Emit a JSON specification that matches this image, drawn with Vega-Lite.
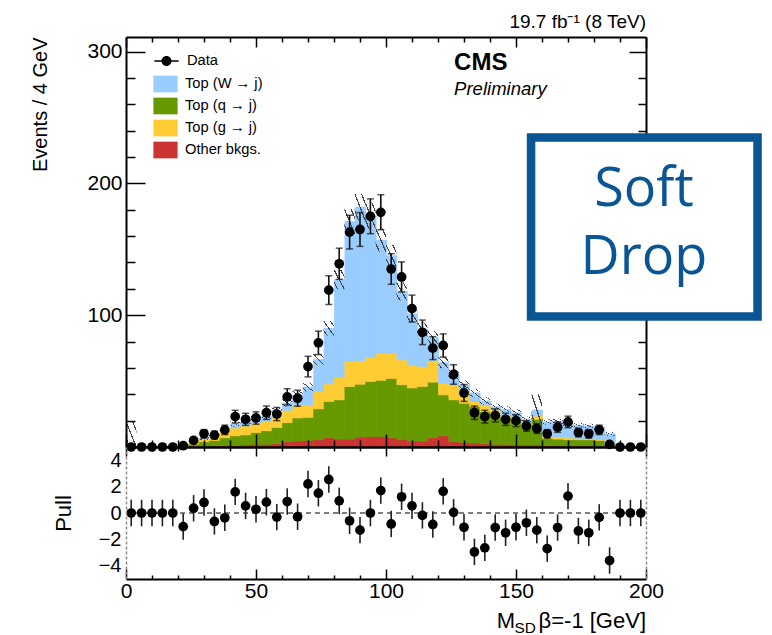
{
  "$schema": "https://vega.github.io/schema/vega-lite/v6.json",
  "background": "white",
  "padding": {"left": 30, "top": 13, "right": 5, "bottom": 0},
  "config": {
    "font": "Liberation Sans",
    "view": {"stroke": null},
    "axis": {"grid": false, "domainColor": "black", "domainWidth": 2, "tickColor": "black", "tickWidth": 1.5, "labelColor": "black", "titleColor": "black", "labelFont": "Liberation Sans", "titleFont": "Liberation Sans", "titleFontWeight": "normal", "labelFontSize": 21, "labelFlush": false, "labelOverlap": false},
    "legend": {"labelFont": "Liberation Sans", "labelColor": "black", "padding": 0},
    "title": {"font": "Liberation Sans", "fontWeight": "normal", "color": "black"}
  },
  "datasets": {
    "bins": [
      {"m": 2, "lo": 0, "hi": 4, "a_other": 0, "b_topq": 0, "c_topg": 0, "d_topw": 0.5, "ulo": 0, "uhi": 19, "n": 0, "err": 0, "pull": 0, "perr": 1},
      {"m": 6, "lo": 4, "hi": 8, "a_other": 0, "b_topq": 0, "c_topg": 0, "d_topw": 0.2, "ulo": 0, "uhi": 1, "n": 0, "err": 0, "pull": 0, "perr": 1},
      {"m": 10, "lo": 8, "hi": 12, "a_other": 0, "b_topq": 0, "c_topg": 0, "d_topw": 0.1, "ulo": 0, "uhi": 0.6, "n": 0, "err": 0, "pull": 0, "perr": 1},
      {"m": 14, "lo": 12, "hi": 16, "a_other": 0, "b_topq": 0, "c_topg": 0, "d_topw": 0.1, "ulo": 0, "uhi": 0.6, "n": 0, "err": 0, "pull": 0, "perr": 1},
      {"m": 18, "lo": 16, "hi": 20, "a_other": 0, "b_topq": 0.2, "c_topg": 0.1, "d_topw": 0.1, "ulo": 0, "uhi": 1, "n": 0, "err": 0, "pull": 0, "perr": 1},
      {"m": 22, "lo": 20, "hi": 24, "a_other": 0.3, "b_topq": 0.7, "c_topg": 0.5, "d_topw": 0.2, "ulo": 0.6, "uhi": 2.8, "n": 1, "err": 1.0, "pull": -1.03, "perr": 1},
      {"m": 26, "lo": 24, "hi": 28, "a_other": 0.5, "b_topq": 1.7, "c_topg": 1.8, "d_topw": 0.3, "ulo": 3.1, "uhi": 5.5, "n": 5, "err": 2.2, "pull": 0.36, "perr": 1},
      {"m": 30, "lo": 28, "hi": 32, "a_other": 0.6, "b_topq": 3.4, "c_topg": 2.0, "d_topw": 0.6, "ulo": 5.3, "uhi": 7.9, "n": 10, "err": 3.2, "pull": 0.8, "perr": 1},
      {"m": 34, "lo": 32, "hi": 36, "a_other": 0.8, "b_topq": 4.2, "c_topg": 3.5, "d_topw": 0.7, "ulo": 7.7, "uhi": 10.7, "n": 9, "err": 3.0, "pull": -0.64, "perr": 1},
      {"m": 38, "lo": 36, "hi": 40, "a_other": 1, "b_topq": 6, "c_topg": 5, "d_topw": 1, "ulo": 11.3, "uhi": 14.7, "n": 13, "err": 3.6, "pull": -0.36, "perr": 1},
      {"m": 42, "lo": 40, "hi": 44, "a_other": 1.2, "b_topq": 7.3, "c_topg": 6.0, "d_topw": 3.0, "ulo": 15.6, "uhi": 19.4, "n": 23, "err": 4.8, "pull": 1.6, "perr": 1},
      {"m": 46, "lo": 44, "hi": 48, "a_other": 1.5, "b_topq": 7.7, "c_topg": 6.8, "d_topw": 3.5, "ulo": 17.5, "uhi": 21.5, "n": 21, "err": 4.6, "pull": 0.54, "perr": 1},
      {"m": 50, "lo": 48, "hi": 52, "a_other": 2, "b_topq": 9, "c_topg": 7, "d_topw": 3.5, "ulo": 19.4, "uhi": 23.6, "n": 22, "err": 4.7, "pull": 0.28, "perr": 1},
      {"m": 54, "lo": 52, "hi": 56, "a_other": 2, "b_topq": 10.3, "c_topg": 7.4, "d_topw": 3.8, "ulo": 21.3, "uhi": 25.7, "n": 26, "err": 5.1, "pull": 0.82, "perr": 1},
      {"m": 58, "lo": 56, "hi": 60, "a_other": 2.5, "b_topq": 12.3, "c_topg": 8.2, "d_topw": 4.5, "ulo": 25.1, "uhi": 29.9, "n": 25, "err": 5.0, "pull": -0.31, "perr": 1},
      {"m": 62, "lo": 60, "hi": 64, "a_other": 4, "b_topq": 14.5, "c_topg": 9.3, "d_topw": 5.7, "ulo": 30.8, "uhi": 36.2, "n": 38, "err": 6.2, "pull": 0.87, "perr": 1},
      {"m": 66, "lo": 64, "hi": 68, "a_other": 4.5, "b_topq": 17.5, "c_topg": 10, "d_topw": 7.5, "ulo": 36.5, "uhi": 42.5, "n": 37, "err": 6.1, "pull": -0.28, "perr": 1},
      {"m": 70, "lo": 68, "hi": 72, "a_other": 5, "b_topq": 17.5, "c_topg": 9.5, "d_topw": 13.5, "ulo": 42.2, "uhi": 48.8, "n": 61, "err": 7.8, "pull": 2.2, "perr": 1},
      {"m": 74, "lo": 72, "hi": 76, "a_other": 5.5, "b_topq": 23.5, "c_topg": 13, "d_topw": 24.5, "ulo": 62.2, "uhi": 70.8, "n": 79, "err": 8.9, "pull": 1.5, "perr": 1},
      {"m": 78, "lo": 76, "hi": 80, "a_other": 7, "b_topq": 27.5, "c_topg": 13.4, "d_topw": 42.1, "ulo": 84.5, "uhi": 95.5, "n": 119, "err": 10.9, "pull": 2.54, "perr": 1},
      {"m": 82, "lo": 80, "hi": 84, "a_other": 6, "b_topq": 29.8, "c_topg": 16.9, "d_topw": 74.3, "ulo": 119.6, "uhi": 134.4, "n": 139, "err": 11.8, "pull": 0.92, "perr": 1},
      {"m": 86, "lo": 84, "hi": 88, "a_other": 6, "b_topq": 39.9, "c_topg": 19, "d_topw": 106.1, "ulo": 161.4, "uhi": 180.6, "n": 163, "err": 12.8, "pull": -0.59, "perr": 1},
      {"m": 90, "lo": 88, "hi": 92, "a_other": 7.5, "b_topq": 40.1, "c_topg": 17.9, "d_topw": 116.5, "ulo": 171.9, "uhi": 192.1, "n": 165, "err": 12.8, "pull": -1.3, "perr": 1},
      {"m": 94, "lo": 92, "hi": 96, "a_other": 8, "b_topq": 41.7, "c_topg": 18.5, "d_topw": 107.3, "ulo": 165.7, "uhi": 185.3, "n": 175, "err": 13.2, "pull": 0, "perr": 1},
      {"m": 98, "lo": 96, "hi": 100, "a_other": 8, "b_topq": 42.6, "c_topg": 20.6, "d_topw": 85.8, "ulo": 148.1, "uhi": 165.9, "n": 178, "err": 13.3, "pull": 1.7, "perr": 1},
      {"m": 102, "lo": 100, "hi": 104, "a_other": 7, "b_topq": 45, "c_topg": 19, "d_topw": 74, "ulo": 136.7, "uhi": 153.3, "n": 135, "err": 11.6, "pull": -0.83, "perr": 1},
      {"m": 106, "lo": 104, "hi": 108, "a_other": 5.5, "b_topq": 41.7, "c_topg": 18.9, "d_topw": 51.9, "ulo": 111.1, "uhi": 124.9, "n": 129, "err": 11.4, "pull": 1.23, "perr": 1},
      {"m": 110, "lo": 108, "hi": 112, "a_other": 4.5, "b_topq": 40.3, "c_topg": 17.5, "d_topw": 38.7, "ulo": 94.9, "uhi": 107.1, "n": 105, "err": 10.2, "pull": 0.54, "perr": 1},
      {"m": 114, "lo": 112, "hi": 116, "a_other": 4.5, "b_topq": 41.4, "c_topg": 15.2, "d_topw": 27.9, "ulo": 83.6, "uhi": 94.4, "n": 87, "err": 9.3, "pull": -0.18, "perr": 1},
      {"m": 118, "lo": 116, "hi": 120, "a_other": 7, "b_topq": 42.2, "c_topg": 16.2, "d_topw": 17.6, "ulo": 78, "uhi": 88, "n": 75, "err": 8.7, "pull": -0.87, "perr": 1},
      {"m": 122, "lo": 120, "hi": 124, "a_other": 8.5, "b_topq": 31.1, "c_topg": 8.8, "d_topw": 15.6, "ulo": 59.8, "uhi": 68.2, "n": 77, "err": 8.8, "pull": 1.64, "perr": 1},
      {"m": 126, "lo": 124, "hi": 128, "a_other": 4, "b_topq": 31.8, "c_topg": 11.4, "d_topw": 7.8, "ulo": 51.2, "uhi": 58.8, "n": 55, "err": 7.4, "pull": 0.05, "perr": 1},
      {"m": 130, "lo": 128, "hi": 132, "a_other": 3.5, "b_topq": 29.7, "c_topg": 8.9, "d_topw": 4.9, "ulo": 43.7, "uhi": 50.3, "n": 41, "err": 6.4, "pull": -1.08, "perr": 1},
      {"m": 134, "lo": 132, "hi": 136, "a_other": 3, "b_topq": 27.7, "c_topg": 3.8, "d_topw": 6.5, "ulo": 38, "uhi": 44, "n": 26, "err": 5.1, "pull": -2.95, "perr": 1},
      {"m": 138, "lo": 136, "hi": 140, "a_other": 2.5, "b_topq": 24.4, "c_topg": 5.1, "d_topw": 3, "ulo": 32.2, "uhi": 37.8, "n": 23, "err": 4.8, "pull": -2.64, "perr": 1},
      {"m": 142, "lo": 140, "hi": 144, "a_other": 2, "b_topq": 22.4, "c_topg": 3.8, "d_topw": 2.3, "ulo": 28, "uhi": 33, "n": 24, "err": 4.9, "pull": -1.1, "perr": 1},
      {"m": 146, "lo": 144, "hi": 148, "a_other": 2, "b_topq": 19.9, "c_topg": 1.6, "d_topw": 5, "ulo": 26, "uhi": 31, "n": 21, "err": 4.6, "pull": -1.5, "perr": 1},
      {"m": 150, "lo": 148, "hi": 152, "a_other": 1.5, "b_topq": 17.8, "c_topg": 1.5, "d_topw": 5.2, "ulo": 23.6, "uhi": 28.4, "n": 20, "err": 4.5, "pull": -1.08, "perr": 1},
      {"m": 154, "lo": 152, "hi": 156, "a_other": 1.5, "b_topq": 15.3, "c_topg": 0.7, "d_topw": 3.5, "ulo": 18.9, "uhi": 23.1, "n": 16, "err": 4.0, "pull": -0.74, "perr": 1},
      {"m": 158, "lo": 156, "hi": 160, "a_other": 1.5, "b_topq": 19.5, "c_topg": 2.5, "d_topw": 4.5, "ulo": 16, "uhi": 40, "n": 14, "err": 3.7, "pull": -1.3, "perr": 1},
      {"m": 162, "lo": 160, "hi": 164, "a_other": 1, "b_topq": 5.5, "c_topg": 1.5, "d_topw": 11, "ulo": 17, "uhi": 21, "n": 10, "err": 3.2, "pull": -2.7, "perr": 1},
      {"m": 166, "lo": 164, "hi": 168, "a_other": 1, "b_topq": 5, "c_topg": 1.5, "d_topw": 12, "ulo": 17.5, "uhi": 21.5, "n": 15, "err": 3.9, "pull": -1.1, "perr": 1},
      {"m": 170, "lo": 168, "hi": 172, "a_other": 0.8, "b_topq": 4.7, "c_topg": 1.5, "d_topw": 10, "ulo": 15.1, "uhi": 18.9, "n": 19, "err": 4.4, "pull": 1.28, "perr": 1},
      {"m": 174, "lo": 172, "hi": 176, "a_other": 0.8, "b_topq": 4.7, "c_topg": 1, "d_topw": 10, "ulo": 14.7, "uhi": 18.3, "n": 11, "err": 3.3, "pull": -1.36, "perr": 1},
      {"m": 178, "lo": 176, "hi": 180, "a_other": 0.7, "b_topq": 4.8, "c_topg": 1, "d_topw": 9.5, "ulo": 14.2, "uhi": 17.8, "n": 10, "err": 3.2, "pull": -1.5, "perr": 1},
      {"m": 182, "lo": 180, "hi": 184, "a_other": 0.5, "b_topq": 4.5, "c_topg": 1, "d_topw": 8.5, "ulo": 12.8, "uhi": 16.2, "n": 13, "err": 3.6, "pull": -0.33, "perr": 1},
      {"m": 186, "lo": 184, "hi": 188, "a_other": 0.3, "b_topq": 1.7, "c_topg": 0.5, "d_topw": 7.5, "ulo": 8.5, "uhi": 11.5, "n": 2, "err": 1.4, "pull": -3.6, "perr": 1},
      {"m": 190, "lo": 188, "hi": 192, "a_other": 0.1, "b_topq": 0.2, "c_topg": 0.2, "d_topw": 0.5, "ulo": 0.5, "uhi": 1.5, "n": 0, "err": 0, "pull": 0, "perr": 1},
      {"m": 194, "lo": 192, "hi": 196, "a_other": 0, "b_topq": 0, "c_topg": 0, "d_topw": 0.3, "ulo": 0, "uhi": 0.8, "n": 0, "err": 0, "pull": 0, "perr": 1},
      {"m": 198, "lo": 196, "hi": 200, "a_other": 0, "b_topq": 0, "c_topg": 0, "d_topw": 0.2, "ulo": 0, "uhi": 0.7, "n": 0, "err": 0, "pull": 0, "perr": 1}
    ]
  },
  "spacing": 0,
  "bounds": "flush",
  "resolve": {"scale": {"color": "independent", "shape": "independent", "stroke": "independent"}},
  "vconcat": [
    {
      "width": 520,
      "height": 410,
      "data": {"name": "bins"},
      "title": {"text": "19.7 fb⁻¹ (8 TeV)", "anchor": "end", "frame": "group", "fontSize": 19, "offset": 4},
      "resolve": {"axis": {"x": "independent", "y": "independent"}},
      "layer": [
        {
          "transform": [{"fold": ["a_other", "b_topq", "c_topg", "d_topw"], "as": ["proc", "events"]}],
          "mark": {"type": "bar", "binSpacing": 0, "strokeWidth": 0.7},
          "encoding": {
            "x": {"field": "lo", "type": "quantitative", "bin": {"binned": true}, "scale": {"domain": [0, 200], "nice": false},
                  "axis": {"orient": "bottom", "values": [0, 50, 100, 150, 200], "labels": false, "tickSize": -13, "title": null, "zindex": 1}},
            "x2": {"field": "hi"},
            "y": {"field": "events", "type": "quantitative", "stack": "zero", "scale": {"domain": [0, 311], "nice": false},
                  "axis": {"orient": "left", "values": [100, 200, 300], "tickSize": -19, "labelPadding": 23, "title": "Events / 4 GeV", "titleFontSize": 20, "titleAnchor": "end", "titlePadding": 36, "zindex": 1}},
            "color": {"field": "proc", "type": "nominal",
                      "scale": {"domain": ["d_topw", "b_topq", "c_topg", "a_other"], "range": ["#99ccff", "#669900", "#ffcc33", "#cc3333"]},
                      "legend": {"title": null, "orient": "none", "legendX": 31, "legendY": 38.5, "padding": 0,
                                 "symbolType": "M-1.45,-1H1.45V1H-1.45Z", "symbolSize": 279, "symbolStrokeWidth": 0,
                                 "labelFontSize": 14.7, "labelOffset": 11, "rowPadding": 5.0,
                                 "labelExpr": "datum.label == 'd_topw' ? 'Top (W → j)' : datum.label == 'b_topq' ? 'Top (q → j)' : datum.label == 'c_topg' ? 'Top (g → j)' : 'Other bkgs.'",
                                 "encode": {"symbols": {"update": {"shape": {"value": "M-1.45,-1H1.45V1H-1.45Z"}}}}}},
            "stroke": {"field": "proc", "type": "nominal",
                       "scale": {"domain": ["d_topw", "b_topq", "c_topg", "a_other"], "range": ["#99ccff", "#669900", "#ffcc33", "#cc3333"]},
                       "legend": null},
            "order": {"field": "proc", "sort": "ascending"}
          }
        },
        {
          "mark": {"type": "rect", "strokeWidth": 0,
                   "fill": {"gradient": "linear", "x1": 0, "y1": 1, "x2": 1, "y2": 0,
                            "stops": [
                              {"offset": 0, "color": "rgba(60,60,60,0)"},
                              {"offset": 0.15, "color": "rgba(60,60,60,0)"},
                              {"offset": 0.15, "color": "#444444"},
                              {"offset": 0.21, "color": "#444444"},
                              {"offset": 0.21, "color": "rgba(60,60,60,0)"},
                              {"offset": 0.47, "color": "rgba(60,60,60,0)"},
                              {"offset": 0.47, "color": "#444444"},
                              {"offset": 0.53, "color": "#444444"},
                              {"offset": 0.53, "color": "rgba(60,60,60,0)"},
                              {"offset": 0.79, "color": "rgba(60,60,60,0)"},
                              {"offset": 0.79, "color": "#444444"},
                              {"offset": 0.85, "color": "#444444"},
                              {"offset": 0.85, "color": "rgba(60,60,60,0)"},
                              {"offset": 1, "color": "rgba(60,60,60,0)"}
                            ]}},
          "encoding": {
            "x": {"field": "lo", "type": "quantitative",
                  "axis": {"orient": "bottom", "values": [10, 20, 30, 40, 60, 70, 80, 90, 110, 120, 130, 140, 160, 170, 180, 190], "labels": false, "domain": false, "tickSize": -7, "title": null, "zindex": 1}},
            "x2": {"field": "hi"},
            "y": {"field": "ulo", "type": "quantitative",
                  "axis": {"orient": "left", "values": [20, 40, 60, 80, 120, 140, 160, 180, 220, 240, 260, 280], "labels": false, "domain": false, "tickSize": -9, "title": null, "zindex": 1}},
            "y2": {"field": "uhi"}
          }
        },
        {
          "mark": {"type": "errorbar", "ticks": {"size": 7, "thickness": 1.5}, "thickness": 1.6, "color": "#111111"},
          "encoding": {
            "x": {"field": "m", "type": "quantitative", "axis": null},
            "y": {"field": "n", "type": "quantitative", "axis": null},
            "yError": {"field": "err"}
          }
        },
        {
          "mark": {"type": "point", "filled": true, "shape": "circle", "size": 95, "color": "black", "opacity": 1, "strokeWidth": 0},
          "encoding": {
            "x": {"field": "m", "type": "quantitative",
                  "axis": {"orient": "top", "values": [0, 50, 100, 150, 200], "labels": false, "tickSize": -10, "title": null, "zindex": 1}},
            "y": {"field": "n", "type": "quantitative",
                  "axis": {"orient": "right", "values": [100, 200, 300], "labels": false, "tickSize": -17, "title": null, "zindex": 0}}
          }
        },
        {
          "data": {"values": [{"label": "Data"}]},
          "mark": {"type": "point", "filled": true, "size": 0, "fill": "black", "opacity": 1},
          "encoding": {
            "x": {"datum": 100, "type": "quantitative", "axis": null},
            "y": {"datum": 100, "type": "quantitative", "axis": null},
            "shape": {"field": "label", "type": "nominal",
                      "scale": {"range": ["M-1.45,-0.09H1.45V0.09H-1.45Z M0.6,0A0.6,0.6,0,1,1,-0.6,0A0.6,0.6,0,1,1,0.6,0Z"]},
                      "legend": {"title": null, "orient": "none", "legendX": 31, "legendY": 14.5, "padding": 0,
                                 "symbolSize": 279, "symbolFillColor": "black",
                                 "labelFontSize": 14.7, "labelOffset": 11}}
          }
        },
        {
          "data": {"values": [{}]},
          "mark": {"type": "text", "text": "CMS", "fontSize": 24, "fontWeight": "bold", "align": "left", "baseline": "alphabetic", "color": "black"},
          "encoding": {
            "x": {"datum": 126.2, "type": "quantitative",
                  "axis": {"orient": "top", "values": [10, 20, 30, 40, 60, 70, 80, 90, 110, 120, 130, 140, 160, 170, 180, 190], "labels": false, "domain": false, "tickSize": -5, "title": null, "zindex": 1}},
            "y": {"datum": 286, "type": "quantitative",
                  "axis": {"orient": "right", "values": [20, 40, 60, 80, 120, 140, 160, 180, 220, 240, 260, 280], "labels": false, "domain": false, "tickSize": -8, "title": null, "zindex": 0}}
          }
        },
        {
          "data": {"values": [{}]},
          "mark": {"type": "text", "text": "Preliminary", "fontSize": 18.5, "fontStyle": "italic", "align": "left", "baseline": "alphabetic", "color": "black"},
          "encoding": {
            "x": {"datum": 126.2, "type": "quantitative", "axis": null},
            "y": {"datum": 266.7, "type": "quantitative", "axis": null}
          }
        },
        {
          "data": {"values": [{}]},
          "mark": {"type": "rect", "fill": "white", "stroke": "#0a5694", "strokeWidth": 8.5},
          "encoding": {
            "x": {"datum": 155.8, "type": "quantitative", "axis": null},
            "x2": {"datum": 242.9},
            "y": {"datum": 234.8, "type": "quantitative", "axis": null},
            "y2": {"datum": 99}
          }
        },
        {
          "data": {"values": [{}]},
          "mark": {"type": "text", "text": "Soft", "font": "Open Sans", "fontSize": 54, "align": "center", "baseline": "alphabetic", "color": "#0a5694"},
          "encoding": {
            "x": {"datum": 199.2, "type": "quantitative", "axis": null},
            "y": {"datum": 182.5, "type": "quantitative", "axis": null}
          }
        },
        {
          "data": {"values": [{}]},
          "mark": {"type": "text", "text": "Drop", "font": "Open Sans", "fontSize": 54, "align": "center", "baseline": "alphabetic", "color": "#0a5694"},
          "encoding": {
            "x": {"datum": 199.2, "type": "quantitative", "axis": null},
            "y": {"datum": 131.6, "type": "quantitative", "axis": null}
          }
        }
      ]
    },
    {
      "width": 520,
      "height": 132,
      "data": {"name": "bins"},
      "resolve": {"axis": {"x": "independent", "y": "independent"}},
      "layer": [
        {
          "data": {"values": [{}]},
          "mark": {"type": "rule", "strokeDash": [5, 4], "strokeWidth": 1, "color": "black"},
          "encoding": {
            "x": {"datum": 0, "type": "quantitative", "scale": {"domain": [0, 200], "nice": false},
                  "axis": {"orient": "bottom", "values": [0, 50, 100, 150, 200], "tickSize": -10, "labelPadding": 11, "labelFontSize": 21, "title": null, "zindex": 1}},
            "x2": {"datum": 200},
            "y": {"datum": 0, "type": "quantitative", "scale": {"domain": [-5, 5], "nice": false},
                  "axis": {"orient": "left", "values": [-4, -2, 0, 2, 4], "ticks": false, "tickSize": 0, "labelPadding": 5, "labelFontSize": 20,
                           "domainColor": "#8a8a8a", "domainDash": [3, 2], "domainWidth": 1.5,
                           "title": "Pull", "titleFontSize": 22, "titlePadding": 23, "zindex": 1}}
          }
        },
        {
          "mark": {"type": "errorbar", "ticks": false, "thickness": 1.6, "color": "#222222"},
          "encoding": {
            "x": {"field": "m", "type": "quantitative", "axis": null},
            "y": {"field": "pull", "type": "quantitative", "scale": {"domain": [-5, 5], "nice": false}, "axis": null},
            "yError": {"field": "perr"}
          }
        },
        {
          "mark": {"type": "point", "filled": true, "shape": "circle", "size": 95, "color": "black", "opacity": 1, "strokeWidth": 0},
          "encoding": {
            "x": {"field": "m", "type": "quantitative",
                  "axis": {"orient": "bottom", "values": [10, 20, 30, 40, 60, 70, 80, 90, 110, 120, 130, 140, 160, 170, 180, 190], "labels": false, "domain": false, "tickSize": -4, "title": null, "zindex": 1}},
            "y": {"field": "pull", "type": "quantitative", "scale": {"domain": [-5, 5], "nice": false},
                  "axis": {"orient": "right", "values": [0], "labels": false, "ticks": false, "tickSize": 0, "domainColor": "#8a8a8a", "domainDash": [3, 2], "domainWidth": 1.5, "title": null, "zindex": 1}}
          }
        },
        {
          "data": {"values": [{}]},
          "mark": {"type": "text", "text": "M", "fontSize": 22, "align": "right", "baseline": "alphabetic", "dx": -131, "color": "black"},
          "encoding": {
            "x": {"datum": 200, "type": "quantitative",
                  "axis": {"orient": "top", "values": [0, 50, 100, 150, 200], "labels": false, "tickSize": -9, "title": null, "zindex": 1}},
            "y": {"datum": -8.69, "type": "quantitative", "axis": null}
          }
        },
        {
          "data": {"values": [{}]},
          "mark": {"type": "text", "text": "SD", "fontSize": 15.4, "align": "right", "baseline": "alphabetic", "dx": -110, "color": "black"},
          "encoding": {
            "x": {"datum": 200, "type": "quantitative",
                  "axis": {"orient": "top", "values": [10, 20, 30, 40, 60, 70, 80, 90, 110, 120, 130, 140, 160, 170, 180, 190], "labels": false, "domain": false, "tickSize": -4, "title": null, "zindex": 1}},
            "y": {"datum": -9.07, "type": "quantitative", "axis": null}
          }
        },
        {
          "data": {"values": [{}]},
          "mark": {"type": "text", "text": "β=-1 [GeV]", "fontSize": 22, "align": "right", "baseline": "alphabetic", "color": "black"},
          "encoding": {
            "x": {"datum": 200, "type": "quantitative", "axis": null},
            "y": {"datum": -8.69, "type": "quantitative", "axis": null}
          }
        }
      ]
    }
  ]
}
